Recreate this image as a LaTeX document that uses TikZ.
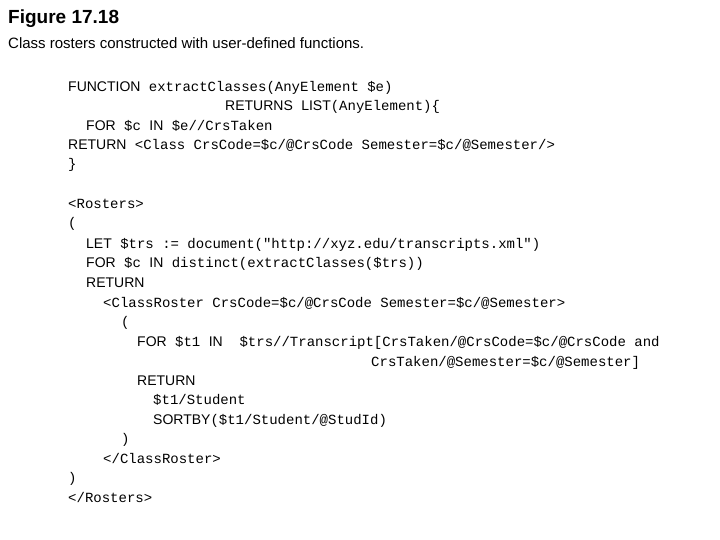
\documentclass[tikz,border=0pt]{standalone}
\usepackage{fontspec}
\setmainfont{Liberation Sans}
\setmonofont{Liberation Mono}
\newcommand{\kw}[1]{{\rmfamily #1}}
\begin{document}
\begin{tikzpicture}[x=1pt,y=-1pt,
  code/.style={anchor=base west,inner sep=0pt,font=\ttfamily\fontsize{14}{14}\selectfont},
  title/.style={anchor=base west,inner sep=0pt,font=\bfseries\fontsize{19}{19}\selectfont},
  sub/.style={anchor=base west,inner sep=0pt,font=\fontsize{15}{15}\selectfont}]
\useasboundingbox (0,0) rectangle (720,540);
\node[title] (t) at (8,24) {Figure 17.18};
\node[sub] (s) at (8,49) {Class rosters constructed with user-defined functions.};
\node[code] (l1) at (68,92) {\kw{FUNCTION} extractClasses(AnyElement \$e)};
\node[code] (l2) at (225,111) {\kw{RETURNS} \kw{LIST}(AnyElement)\{};
\node[code] (l3) at (86,131) {\kw{FOR} \$c \kw{IN} \$e//CrsTaken};
\node[code] (l4) at (68,150) {\kw{RETURN} <Class CrsCode=\$c/@CrsCode Semester=\$c/@Semester/>};
\node[code] (l5) at (68,169) {\}};
\node[code] (l6) at (68,209) {<Rosters>};
\node[code] (l7) at (68,228) {(};
\node[code] (l8) at (86,248) {\kw{LET} \$trs := document("http://xyz.edu/transcripts.xml")};
\node[code] (l9) at (86,267) {\kw{FOR} \$c \kw{IN} distinct(extractClasses(\$trs))};
\node[code] (l10) at (86,287) {\kw{RETURN}};
\node[code] (l11) at (103,307) {<ClassRoster CrsCode=\$c/@CrsCode Semester=\$c/@Semester>};
\node[code] (l12) at (121,326) {(};
\node[code] (l13) at (137,346) {\kw{FOR} \$t1 \kw{IN}\ \ \$trs//Transcript[CrsTaken/@CrsCode=\$c/@CrsCode and};
\node[code] (l14) at (371,366) {CrsTaken/@Semester=\$c/@Semester]};
\node[code] (l15) at (137,385) {\kw{RETURN}};
\node[code] (l16) at (153,404) {\$t1/Student};
\node[code] (l17) at (153,424) {\kw{SORTBY}(\$t1/Student/@StudId)};
\node[code] (l18) at (121,443) {)};
\node[code] (l19) at (103,463) {</ClassRoster>};
\node[code] (l20) at (68,482) {)};
\node[code] (l21) at (68,502) {</Rosters>};
\end{tikzpicture}
\end{document}
